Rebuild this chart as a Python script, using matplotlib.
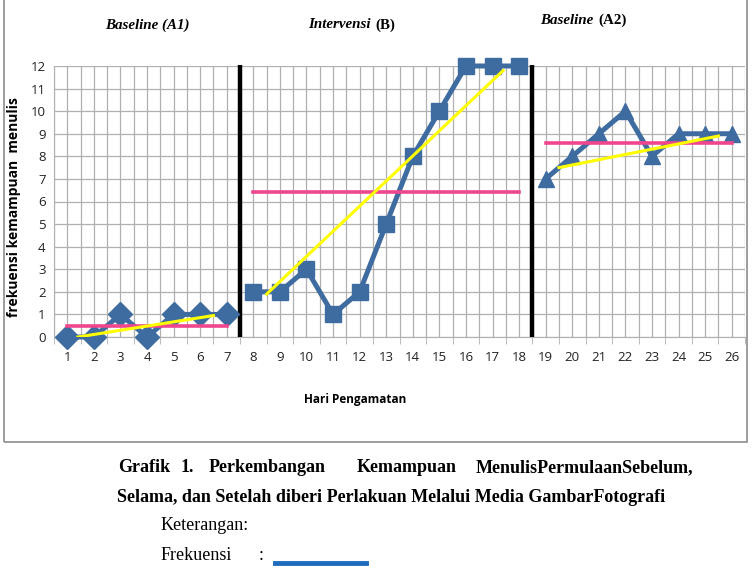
import numpy as np
import matplotlib.pyplot as plt
import matplotlib.ticker as ticker
from matplotlib.patches import Rectangle
from matplotlib.lines import Line2D

# observation days and scores per phase
days_a1 = [1, 2, 3, 4, 5, 6, 7]
score_a1 = [0, 0, 1, 0, 1, 1, 1]
days_b = [8, 9, 10, 11, 12, 13, 14, 15, 16, 17, 18]
score_b = [2, 2, 3, 1, 2, 5, 8, 10, 12, 12, 12]
days_a2 = [19, 20, 21, 22, 23, 24, 25, 26]
score_a2 = [7, 8, 9, 10, 8, 9, 9, 9]

# mean level lines (x start, x end, level)
mean_a1 = (1, 7, 0.5)
mean_b = (8, 18, 6.4)
mean_a2 = (19, 26, 8.6)

# trend lines (x0, y0, x1, y1)
trend_a1 = (1.4, 0.0, 6.5, 0.95)
trend_b = (8.5, 1.9, 17.4, 11.8)
trend_a2 = (19.5, 7.5, 25.5, 8.9)

phase_breaks = [7.5, 18.5]

BLUE = "#3F6CA0"
PINK = "#F0468E"
YELLOW = "#FFFF00"
GRID = "#B0B0B0"

W, H = 755, 577
fig = plt.figure(figsize=(W / 100, H / 100), dpi=100)
fig.patch.set_facecolor("white")

def fx(px):
    return px / W

def fy(py):
    return 1 - py / H

# outer chart frame (top edge cut off)
fig.patches.append(Rectangle((fx(4), fy(442)), fx(743), fy(-4) - fy(442),
                             transform=fig.transFigure, fill=False,
                             edgecolor="#8C8C8C", linewidth=1.2))

ax = fig.add_axes([fx(54), fy(337), fx(745) - fx(54), fy(66) - fy(337)])
ax.set_xlim(0.5, 26.5)
ax.set_ylim(0, 12)

ax.xaxis.set_major_locator(ticker.FixedLocator(np.arange(1, 27)))
ax.xaxis.set_minor_locator(ticker.FixedLocator(np.arange(0.5, 27, 1)))
ax.yaxis.set_major_locator(ticker.MultipleLocator(1))
ax.grid(which="major", axis="y", color=GRID, linewidth=0.9)
ax.grid(which="both", axis="x", color=GRID, linewidth=0.9)
ax.set_axisbelow(True)
for s in ["top", "right"]:
    ax.spines[s].set_visible(False)
ax.spines["left"].set_color(GRID)
ax.spines["bottom"].set_color(GRID)
ax.tick_params(axis="x", which="major", length=0, pad=10, labelsize=9.5,
               colors="#222222")
ax.tick_params(axis="x", which="minor", length=5, color=GRID)
ax.tick_params(axis="y", length=0, pad=6, labelsize=9.5, colors="#222222")
for lab in ax.get_xticklabels() + ax.get_yticklabels():
    lab.set_fontfamily("Open Sans")

# phase separators
for xb in phase_breaks:
    ax.plot([xb, xb], [0, 12.05], color="black", linewidth=3.2,
            solid_capstyle="butt", zorder=3, clip_on=False)

# data series
ax.plot(days_a1, score_a1, color=BLUE, linewidth=3.6, marker="D",
        markersize=12, zorder=4, clip_on=False)
ax.plot(days_b, score_b, color=BLUE, linewidth=3.6, marker="s",
        markersize=12, zorder=4, clip_on=False)
ax.plot(days_a2, score_a2, color=BLUE, linewidth=3.6, marker="^",
        markersize=12, zorder=4, clip_on=False)

# mean levels
for x0, x1, lv in [mean_a1, mean_b, mean_a2]:
    ax.plot([x0, x1], [lv, lv], color=PINK, linewidth=2.6, zorder=5)

# trends
for x0, y0, x1, y1 in [trend_a1, trend_b, trend_a2]:
    ax.plot([x0, x1], [y0, y1], color=YELLOW, linewidth=2.2, zorder=6)

fig.text(fx(14), fy(207), "frekuensi kemampuan  menulis", fontsize=10,
         fontweight="bold", family="Open Sans", rotation=90,
         ha="center", va="center")
fig.text(fx(355), fy(400), "Hari Pengamatan", fontsize=8.5, fontweight="bold",
         family="Open Sans", ha="center", va="center")

# phase headings
serif = "Liberation Serif"
hs = 10.8
fig.text(fx(147), fy(25), "Baseline (A1)", fontsize=hs, fontweight="bold",
         fontstyle="italic", family=serif, ha="center", va="center")
fig.text(fx(374), fy(25), "Intervensi ", fontsize=hs, fontweight="bold",
         fontstyle="italic", family=serif, ha="right", va="center")
fig.text(fx(375), fy(25), "(B)", fontsize=hs, fontweight="bold",
         family=serif, ha="left", va="center")
fig.text(fx(597), fy(20), "Baseline ", fontsize=hs, fontweight="bold",
         fontstyle="italic", family=serif, ha="right", va="center")
fig.text(fx(598), fy(20), "(A2)", fontsize=hs, fontweight="bold",
         family=serif, ha="left", va="center")

# caption (justified first line placed word by word)
cs = 13
cap_words = [(118, "Grafik"), (181, "1."), (209, "Perkembangan"),
             (357, "Kemampuan"), (476, "MenulisPermulaanSebelum,")]
for x, w in cap_words:
    fig.text(fx(x), fy(468), w, fontsize=cs, fontweight="bold", family=serif,
             ha="left", va="center")
fig.text(fx(117), fy(497),
         "Selama, dan Setelah diberi Perlakuan Melalui Media GambarFotografi",
         fontsize=cs, fontweight="bold", family=serif, ha="left", va="center")
fig.text(fx(161), fy(526), "Keterangan:", fontsize=cs, family=serif,
         ha="left", va="center")
fig.text(fx(161), fy(556), "Frekuensi", fontsize=cs, family=serif,
         ha="left", va="center")
fig.text(fx(259), fy(556), ":", fontsize=cs, family=serif,
         ha="left", va="center")
fig.lines.append(Line2D([fx(275), fx(366)], [fy(563), fy(563)],
                        transform=fig.transFigure, color="#1F6CBF",
                        linewidth=3.5))

fig.savefig("out.png", dpi=100, facecolor="white")
